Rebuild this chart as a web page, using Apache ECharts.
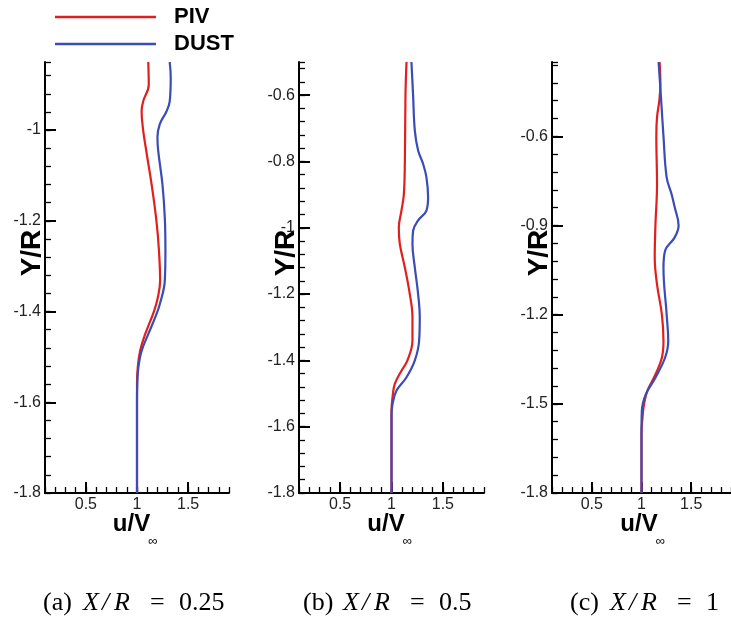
<!DOCTYPE html>
<html>
<head>
<meta charset="utf-8">
<script src="https://cdn.jsdelivr.net/npm/echarts@6/dist/echarts.min.js"></script>
<style>
html,body{margin:0;padding:0;background:#fff;}
#chart{width:731px;height:623px;}
</style>
</head>
<body>
<div id="chart"></div>
<script>
// ---- data (u/V_inf along Y/R) ----
const pivA_y = [-0.85,-0.90,-0.937,-0.959,-1.0,-1.045,-1.12,-1.2,-1.266,-1.332,-1.369,-1.4,-1.45,-1.487,-1.524,-1.56,-1.8];
const pivA_u = [1.11,1.115,1.06,1.045,1.06,1.09,1.143,1.19,1.215,1.226,1.204,1.165,1.08,1.03,1.007,1.0,1.0];
const dustA_y = [-0.85,-0.885,-0.937,-0.959,-0.987,-1.016,-1.045,-1.12,-1.193,-1.266,-1.332,-1.384,-1.413,-1.45,-1.487,-1.524,-1.56,-1.6,-1.8];
const dustA_u = [1.32,1.33,1.32,1.288,1.223,1.2,1.207,1.249,1.272,1.278,1.272,1.223,1.178,1.11,1.045,1.013,1.003,1.0,1.0];

const pivB_y = [-0.5,-0.6,-0.8,-0.9,-0.948,-1.0,-1.049,-1.12,-1.2,-1.27,-1.34,-1.4,-1.431,-1.471,-1.511,-1.55,-1.8];
const pivB_u = [1.146,1.136,1.13,1.12,1.097,1.071,1.081,1.13,1.178,1.204,1.204,1.155,1.097,1.032,1.01,1.0,1.0];
const dustB_y = [-0.5,-0.6,-0.707,-0.767,-0.807,-0.848,-0.908,-0.948,-0.978,-1.009,-1.049,-1.12,-1.2,-1.27,-1.34,-1.4,-1.451,-1.491,-1.532,-1.57,-1.8];
const dustB_u = [1.194,1.21,1.227,1.259,1.307,1.34,1.356,1.34,1.259,1.21,1.204,1.227,1.259,1.275,1.269,1.227,1.146,1.049,1.01,1.0,1.0];

const pivC_y = [-0.35,-0.424,-0.48,-0.536,-0.6,-0.761,-0.9,-1.008,-1.098,-1.2,-1.289,-1.345,-1.401,-1.457,-1.5,-1.547,-1.6,-1.8];
const pivC_u = [1.182,1.19,1.179,1.156,1.149,1.156,1.14,1.133,1.156,1.205,1.221,1.205,1.14,1.058,1.026,1.01,1.0,1.0];
const dustC_y = [-0.35,-0.48,-0.6,-0.738,-0.794,-0.839,-0.9,-0.94,-0.985,-1.042,-1.2,-1.289,-1.345,-1.412,-1.469,-1.525,-1.6,-1.8];
const dustC_u = [1.172,1.198,1.221,1.253,1.302,1.334,1.373,1.334,1.237,1.221,1.253,1.269,1.237,1.14,1.042,1.003,1.0,1.0];

// ---- axes / ticks ----
const xMin = 0.1, xMax = 1.9, xMinorStep = 0.1;
const xMajor = [0.5, 1, 1.5];
const yMin = -1.8;
const yMaxList = [-0.85, -0.5, -0.35];
const yMinorStep = [0.04, 0.04, 0.06];
const yMajorA = [-1.8, -1.6, -1.4, -1.2, -1];
const yMajorB = [-1.8, -1.6, -1.4, -1.2, -1, -0.8, -0.6];
const yMajorC = [-1.8, -1.5, -1.2, -0.9, -0.6];
const yMajors = [yMajorA, yMajorB, yMajorC];
const captions = [['(a)', '0.25'], ['(b)', '0.5'], ['(c)', '1']];
const seriesNames = ['PIV', 'DUST'];
const colors = ['#e0201e', '#3a4cb6'];

// ---- layout ----
const grids = [
  {left: 45, top: 62, width: 184, height: 431},
  {left: 299, top: 62, width: 185, height: 431},
  {left: 552, top: 62, width: 185, height: 431}
];
const capLeft = [43, 303, 570];

const sans = 'Liberation Sans, Arial, sans-serif';
const serif = 'Liberation Serif, Times New Roman, serif';

const xAxes = [], yAxes = [], series = [], graphics = [];
const pairs = [[pivA_u, pivA_y, dustA_u, dustA_y],[pivB_u, pivB_y, dustB_u, dustB_y],[pivC_u, pivC_y, dustC_u, dustC_y]];

grids.forEach((g, i) => {
  xAxes.push({
    type: 'value', gridIndex: i, position: 'bottom', min: xMin, max: xMax, interval: xMinorStep,
    axisLine: {show: true, onZero: false, lineStyle: {color: '#000', width: 2}},
    axisTick: {show: true, inside: true, length: 6, lineStyle: {color: '#000', width: 1.3}},
    axisLabel: {show: true, customValues: xMajor, margin: 4, fontSize: 16, fontFamily: sans, color: '#222', formatter: v => String(v)},
    splitLine: {show: false}
  });
  xAxes.push({
    type: 'value', gridIndex: i, position: 'bottom', min: xMin, max: xMax,
    axisLine: {show: false, onZero: false},
    axisTick: {show: true, inside: true, length: 11, customValues: xMajor, lineStyle: {color: '#000', width: 2}},
    axisLabel: {show: false},
    splitLine: {show: false}
  });
  yAxes.push({
    type: 'value', gridIndex: i, position: 'left', min: yMin, max: yMaxList[i], interval: yMinorStep[i],
    axisLine: {show: true, onZero: false, lineStyle: {color: '#000', width: 2}},
    axisTick: {show: true, inside: true, length: 6, lineStyle: {color: '#000', width: 1.3}},
    axisLabel: {show: true, customValues: yMajors[i], margin: 4, fontSize: 16, fontFamily: sans, color: '#222', formatter: v => String(v)},
    splitLine: {show: false}
  });
  yAxes.push({
    type: 'value', gridIndex: i, position: 'left', min: yMin, max: yMaxList[i],
    axisLine: {show: false, onZero: false},
    axisTick: {show: true, inside: true, length: 11, customValues: yMajors[i], lineStyle: {color: '#000', width: 2}},
    axisLabel: {show: false},
    splitLine: {show: false}
  });

  const cx = g.left + g.width / 2;
  graphics.push({
    type: 'text', x: cx - 5.5, y: 524,
    style: {text: 'u/V', font: 'bold 24px ' + sans, fill: '#000', textAlign: 'center', textVerticalAlign: 'middle'}
  });
  graphics.push({
    type: 'text', x: cx + 16, y: 541,
    style: {text: '\u221e', font: '13px ' + sans, fill: '#000', textAlign: 'center', textVerticalAlign: 'middle'}
  });
  graphics.push({
    type: 'text', x: g.left - 13, y: 253, rotation: Math.PI / 2,
    style: {text: 'Y/R', font: 'bold 28px ' + sans, fill: '#000', textAlign: 'center', textVerticalAlign: 'middle'}
  });
  graphics.push({
    type: 'text', x: capLeft[i], y: 603,
    style: {
      text: '{p|' + captions[i][0] + '}{x|X}{s|/}{r|R}{e|=}{n|' + captions[i][1] + '}',
      textVerticalAlign: 'middle', textAlign: 'left',
      rich: {
        p: {fontFamily: serif, fontSize: 26, width: 40, align: 'left', color: '#111'},
        x: {fontFamily: serif, fontSize: 26, fontStyle: 'italic', width: 19, align: 'left', color: '#111'},
        s: {fontFamily: serif, fontSize: 26, fontStyle: 'italic', width: 12, align: 'left', color: '#111'},
        r: {fontFamily: serif, fontSize: 26, fontStyle: 'italic', width: 36, align: 'left', color: '#111'},
        e: {fontFamily: serif, fontSize: 26, width: 29, align: 'left', color: '#111'},
        n: {fontFamily: serif, fontSize: 26, align: 'left', color: '#111'}
      }
    }
  });

  const p = pairs[i];
  [0, 1].forEach(k => {
    const us = p[k * 2], ys = p[k * 2 + 1];
    series.push({
      name: seriesNames[k], type: 'line', xAxisIndex: i * 2, yAxisIndex: i * 2,
      data: us.map((u, j) => [u, ys[j]]),
      showSymbol: false, symbol: 'none', smooth: 0.4,
      lineStyle: {color: colors[k], width: 2.2}, itemStyle: {color: colors[k]},
      z: 3 + k, animation: false
    });
  });
});

const chart = echarts.init(document.getElementById('chart'), null, {renderer: 'canvas'});
chart.setOption({
  animation: false,
  backgroundColor: '#fff',
  grid: grids.map(g => Object.assign({containLabel: false}, g)),
  xAxis: xAxes,
  yAxis: yAxes,
  legend: {
    data: seriesNames, orient: 'vertical', left: 55, top: 6, padding: 0,
    icon: 'rect', itemWidth: 101, itemHeight: 2.5, itemGap: 5,
    textStyle: {fontSize: 22, fontWeight: 'bold', fontFamily: sans, color: '#000', padding: [0, 0, 0, 13], lineHeight: 22}
  },
  series: series,
  graphic: graphics
});
</script>
</body>
</html>
